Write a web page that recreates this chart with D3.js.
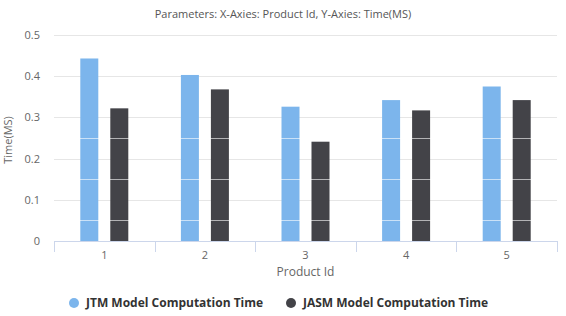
<!DOCTYPE html>
<html>
<head>
<meta charset="utf-8">
<script src="https://cdn.jsdelivr.net/npm/d3@7"></script>
<style>
  body { margin: 0; background: #fff; }
  text { font-family: "Open Sans", "DejaVu Sans", sans-serif; }
</style>
</head>
<body>
<script>
var productIds = ["1", "2", "3", "4", "5"];
var jtmTimes = [0.443, 0.403, 0.326, 0.342, 0.375];
var jasmTimes = [0.322, 0.368, 0.241, 0.317, 0.342];
var seriesNames = ["JTM Model Computation Time", "JASM Model Computation Time"];
var seriesColors = ["#7cb5ec", "#434348"];
var yTicks = [0, 0.1, 0.2, 0.3, 0.4, 0.5];
var bandLines = [0.05, 0.15, 0.25];

var width = 566, height = 316;
var margin = {left: 54, top: 35, right: 9, bottom: 75};
var plotW = width - margin.left - margin.right;
var plotH = height - margin.top - margin.bottom;

var svg = d3.select("body").append("svg").attr("width", width).attr("height", height);

var x = d3.scaleBand().domain(productIds).range([0, plotW]);
var y = d3.scaleLinear().domain([0, 0.5]).range([plotH, 0]);
var barW = 18;

var g = svg.append("g").attr("transform", "translate(" + margin.left + "," + margin.top + ")");

// gridlines
g.selectAll("line.grid").data(yTicks.slice(1)).enter().append("line")
  .attr("class", "grid")
  .attr("x1", 0).attr("x2", plotW)
  .attr("y1", function(d){ return Math.round(y(d)) + 0.5; })
  .attr("y2", function(d){ return Math.round(y(d)) + 0.5; })
  .attr("stroke", "#e6e6e6");

// y labels
g.selectAll("text.ylab").data(yTicks).enter().append("text")
  .attr("x", -14).attr("y", function(d){ return y(d) + 4; })
  .attr("text-anchor", "end").attr("font-size", 11).attr("fill", "#666")
  .text(function(d){ return d; });

// bars
var series = [jtmTimes, jasmTimes];
series.forEach(function(vals, si){
  g.selectAll("rect.s" + si).data(vals).enter().append("rect")
    .attr("class", "s" + si)
    .attr("x", function(d, i){ return x(productIds[i]) + x.bandwidth() / 2 + (si === 0 ? -15 : 15) - barW / 2; })
    .attr("y", function(d){ return y(d); })
    .attr("width", barW)
    .attr("height", function(d){ return plotH - y(d); })
    .attr("fill", seriesColors[si]);
});

// white band lines over the bars
g.selectAll("line.band").data(bandLines).enter().append("line")
  .attr("x1", 0).attr("x2", plotW)
  .attr("y1", function(d){ return Math.round(y(d)) + 0.5; })
  .attr("y2", function(d){ return Math.round(y(d)) + 0.5; })
  .attr("stroke", "#fff").attr("stroke-opacity", 0.6);

// x axis
var xAxis = g.append("g").attr("transform", "translate(0," + plotH + ")");
xAxis.append("line").attr("x1", 0).attr("x2", plotW).attr("y1", 0.5).attr("y2", 0.5).attr("stroke", "#ccd6eb");
var bounds = productIds.map(function(p){ return x(p); }).concat([plotW]);
xAxis.selectAll("line.tick").data(bounds).enter().append("line")
  .attr("x1", function(d){ return Math.round(d) + 0.5; })
  .attr("x2", function(d){ return Math.round(d) + 0.5; })
  .attr("y1", 0).attr("y2", 11).attr("stroke", "#ccd6eb");
xAxis.selectAll("text").data(productIds).enter().append("text")
  .attr("x", function(d){ return x(d) + x.bandwidth() / 2; })
  .attr("y", 18).attr("text-anchor", "middle").attr("font-size", 11).attr("fill", "#666")
  .text(function(d){ return d; });

// titles
svg.append("text").attr("x", 283).attr("y", 18).attr("text-anchor", "middle")
  .attr("font-size", 11).attr("fill", "#555")
  .text("Parameters: X-Axies: Product Id, Y-Axies: Time(MS)");
svg.append("text").attr("x", margin.left + plotW / 2).attr("y", 276).attr("text-anchor", "middle")
  .attr("font-size", 12).attr("fill", "#666").text("Product Id");
svg.append("text").attr("transform", "translate(12,140) rotate(-90)").attr("text-anchor", "middle")
  .attr("font-size", 11).attr("fill", "#666").text("Time(MS)");

// legend
var legendX = [74, 291];
var legend = svg.selectAll("g.legend").data(seriesNames).enter().append("g")
  .attr("transform", function(d, i){ return "translate(" + legendX[i] + ",303)"; });
legend.append("circle").attr("r", 5).attr("fill", function(d, i){ return seriesColors[i]; });
legend.append("text").attr("x", 12).attr("y", 4).attr("font-size", 12).attr("font-weight", "bold")
  .attr("fill", "#333").text(function(d){ return d; });
</script>
</body>
</html>
